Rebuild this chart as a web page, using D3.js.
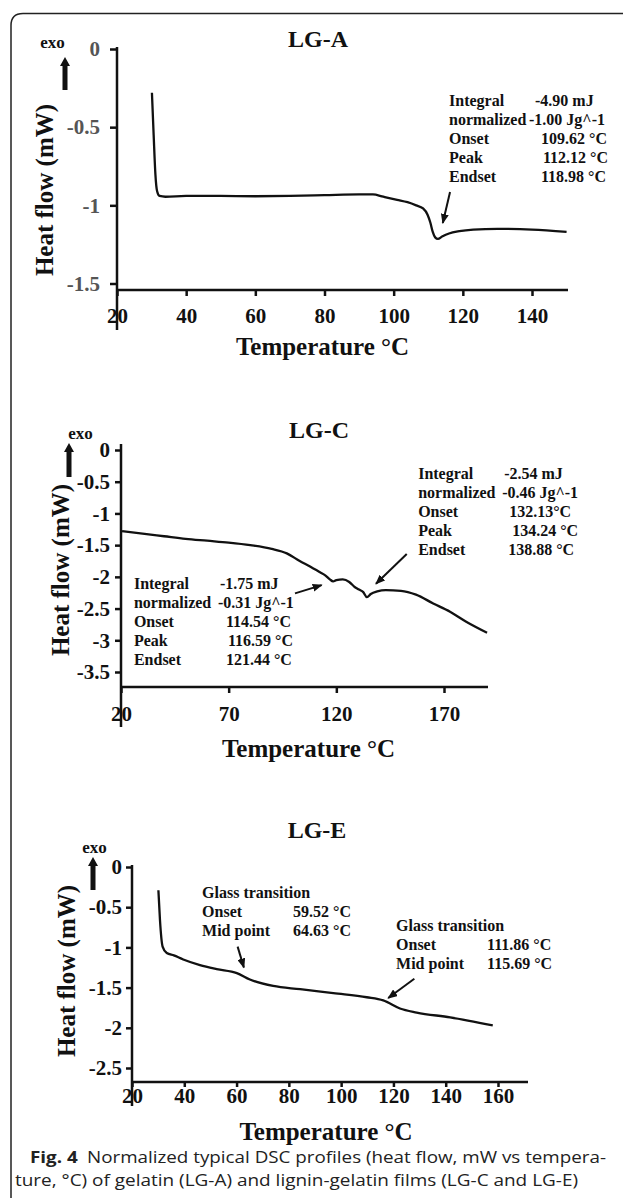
<!DOCTYPE html>
<html>
<head>
<meta charset="utf-8">
<script src="https://cdn.jsdelivr.net/npm/d3@7"></script>
<style>
  body { margin: 0; background: #fff; }
  svg text { font-family: "Liberation Serif", "Times New Roman", serif; font-weight: bold; fill: #111; }
  svg .caption text { font-family: "Open Sans", "Noto Sans", sans-serif; font-weight: normal; fill: #222; }
</style>
</head>
<body>
<svg id="fig" width="623" height="1200"></svg>
<script>
// ---- data ----
// LG-A
const tempA = [30.1, 30.6, 31.1, 31.6, 32.3, 34, 40, 50, 60, 70, 80, 90, 94, 97, 101, 104, 106.5, 108.5, 109.8, 110.6,
               111.3, 112, 112.8, 114, 116, 119, 123, 130, 140, 150];
const flowA = [-0.28, -0.55, -0.8, -0.91, -0.94, -0.945, -0.94, -0.94, -0.942, -0.94, -0.935, -0.93, -0.93, -0.945, -0.965, -0.98, -1.0, -1.02, -1.06, -1.11,
               -1.17, -1.205, -1.215, -1.2, -1.18, -1.165, -1.155, -1.15, -1.155, -1.17];
// LG-C
const tempC = [20.5, 30, 40, 50, 60, 70, 80, 90, 97, 103, 108, 112, 115, 117, 118.5, 120, 123, 126, 128.5, 130.5,
               132.5, 134.2, 136, 139, 143, 150, 157, 165, 172.8, 180.5, 190];
const flowC = [-1.28, -1.32, -1.36, -1.40, -1.43, -1.46, -1.50, -1.56, -1.63, -1.75, -1.84, -1.92, -1.98, -2.04, -2.07, -2.05, -2.04, -2.08, -2.16, -2.20,
               -2.24, -2.32, -2.27, -2.23, -2.21, -2.22, -2.28, -2.42, -2.55, -2.71, -2.88];
// LG-E
const tempE = [30.1, 30.7, 31.7, 33.3, 36, 39.6, 46, 52.4, 60.1, 65.1, 74, 84.3, 97, 109.8, 116.1, 122.5, 128.9, 141.7, 158];
const flowE = [-0.29, -0.66, -0.99, -1.07, -1.10, -1.15, -1.22, -1.27, -1.32, -1.40, -1.48, -1.52, -1.57, -1.62, -1.66, -1.76, -1.81, -1.87, -1.97];

// tick labels
const xTicksA = [20, 40, 60, 80, 100, 120, 140];
const yTicksA = [0, -0.5, -1, -1.5];
const xTicksC = [20, 70, 120, 170];
const yTicksC = [0, -0.5, -1, -1.5, -2, -2.5, -3, -3.5];
const xTicksE = [20, 40, 60, 80, 100, 120, 140, 160];
const yTicksE = [0, -0.5, -1, -1.5, -2, -2.5];

// annotation texts
const peakLabels = ["Integral", "normalized", "Onset", "Peak", "Endset"];
const peakA = ["-4.90 mJ", "-1.00 Jg^-1", "109.62 °C", "112.12 °C", "118.98 °C"];
const peakC1 = ["-1.75 mJ", "-0.31 Jg^-1", "114.54 °C", "116.59 °C", "121.44 °C"];
const peakC2 = ["-2.54 mJ", "-0.46 Jg^-1", "132.13°C", "134.24 °C", "138.88 °C"];
const glassLabels = ["Glass transition", "Onset", "Mid point"];
const glassE1 = ["", "59.52 °C", "64.63 °C"];
const glassE2 = ["", "111.86 °C", "115.69 °C"];

const captionBold = "Fig. 4";
const captionLine1 = "Normalized typical DSC profiles (heat flow, mW vs tempera-";
const captionLine2 = "ture, °C) of gelatin (LG-A) and lignin-gelatin films (LG-C and LG-E)";

// ---- layout ----
const svg = d3.select("#fig");

svg.append("defs").append("marker")
    .attr("id", "head")
    .attr("markerUnits", "userSpaceOnUse")
    .attr("markerWidth", 10).attr("markerHeight", 8)
    .attr("refX", 9).attr("refY", 4)
    .attr("orient", "auto")
    .append("path").attr("d", "M0,0 L10,4 L0,8 Z").attr("fill", "#111");

// rounded frame (open on the right)
svg.append("path")
    .attr("d", "M623,13.5 H23 Q11,13.5 11,25.5 V1198")
    .attr("fill", "none").attr("stroke", "#222").attr("stroke-width", 1.5);

const panels = [
  { title: "LG-A", temp: tempA, flow: flowA, xTicks: xTicksA, yTicks: yTicksA,
    xDom: [20, 140], xPx: [117, 532], yDom: [-1.5, 0], yPx: [283.5, 49],
    xEnd: 568, axisY: 290, yTop: 47, yBottom: 330,
    xTick: 6, xPad: 12, yTick: 7, yPad: 10, yTickColor: "#555",
    titlePos: [318, 47], xLabPos: [322.5, 355], yLabPos: [44, 190],
    exo: [52.5, 48, 65, 57, 90],
    notes: [{ labels: peakLabels, values: peakA, at: [116, -0.365], offs: [86, 80, 92, 94, 92] }],
    arrows: [[[116.3, -0.915], [114.2, -1.113]]] },
  { title: "LG-C", temp: tempC, flow: flowC, xTicks: xTicksC, yTicks: yTicksC,
    xDom: [20, 170], xPx: [121, 444], yDom: [-3.5, 0], yPx: [672, 450],
    xEnd: 488, axisY: 687, yTop: 444, yBottom: 727,
    xTick: 6, xPad: 13, yTick: 6, yPad: 5, yTickColor: "#111",
    titlePos: [319, 438], xLabPos: [308.5, 757], yLabPos: [60, 570],
    exo: [80.5, 439, 69, 443, 477],
    notes: [{ labels: peakLabels, values: peakC1, at: [26, -2.19], offs: [86, 84, 92, 94, 92] },
            { labels: peakLabels, values: peakC2, at: [158, -0.457], offs: [86, 84, 91, 94, 90] }],
    arrows: [[[100.8, -2.26], [113.2, -2.13]], [[152.7, -1.64], [138.4, -2.11]]] },
  { title: "LG-E", temp: tempE, flow: flowE, xTicks: xTicksE, yTicks: yTicksE,
    xDom: [20, 160], xPx: [132, 498], yDom: [-2.5, 0], yPx: [1068, 867],
    xEnd: 528, axisY: 1082, yTop: 865, yBottom: 1106,
    xTick: 5, xPad: 1, yTick: 6, yPad: 4, yTickColor: "#111",
    titlePos: [317, 838], xLabPos: [326, 1140], yLabPos: [66, 971],
    exo: [94.5, 853, 93, 857, 890],
    notes: [{ labels: glassLabels, values: glassE1, at: [46.8, -0.386], offs: [0, 91, 91] },
            { labels: glassLabels, values: glassE2, at: [121, -0.79], offs: [0, 91, 91] }],
    arrows: [[[60.4, -0.99], [62.8, -1.25]], [[128, -1.39], [118, -1.63]]] }
];

panels.forEach(drawPanel);

function drawPanel(p) {
  const x = d3.scaleLinear().domain(p.xDom).range(p.xPx);
  const y = d3.scaleLinear().domain(p.yDom).range(p.yPx);
  const g = svg.append("g");

  // x axis
  const xa = g.append("g")
      .attr("transform", `translate(0,${p.axisY})`)
      .call(d3.axisBottom(x).tickValues(p.xTicks).tickSize(p.xTick).tickPadding(p.xPad).tickFormat(d => String(d)));
  xa.select(".domain").remove();
  xa.attr("font-size", 21).attr("font-family", null);
  xa.selectAll("line").attr("stroke", "#111").attr("stroke-width", 2.5);
  g.append("line")
      .attr("x1", x(p.xDom[0])).attr("x2", p.xEnd)
      .attr("y1", p.axisY).attr("y2", p.axisY)
      .attr("stroke", "#111").attr("stroke-width", 2.5);

  // y axis
  const ya = g.append("g")
      .attr("transform", `translate(${x(p.xDom[0])},0)`)
      .call(d3.axisLeft(y).tickValues(p.yTicks).tickSize(p.yTick).tickPadding(p.yPad).tickFormat(d => String(d)));
  ya.select(".domain").remove();
  ya.attr("font-size", 21).attr("font-family", null);
  ya.selectAll("line").attr("stroke", "#111").attr("stroke-width", 2.5);
  ya.selectAll("text").style("fill", p.yTickColor);
  g.append("line")
      .attr("x1", x(p.xDom[0])).attr("x2", x(p.xDom[0]))
      .attr("y1", p.yTop).attr("y2", p.yBottom)
      .attr("stroke", "#111").attr("stroke-width", 2.5);

  // curve
  const pts = p.temp.map((t, i) => [t, p.flow[i]]);
  g.append("path")
      .datum(pts)
      .attr("fill", "none").attr("stroke", "#111").attr("stroke-width", 2.3)
      .attr("stroke-linejoin", "round")
      .attr("d", d3.line().x(d => x(d[0])).y(d => y(d[1])).curve(d3.curveMonotoneX));

  // titles and axis labels
  g.append("text").attr("x", p.titlePos[0]).attr("y", p.titlePos[1])
      .attr("text-anchor", "middle").attr("font-size", 24).text(p.title);
  g.append("text").attr("x", p.xLabPos[0]).attr("y", p.xLabPos[1])
      .attr("text-anchor", "middle").attr("font-size", 25).text("Temperature °C");
  g.append("text")
      .attr("transform", `translate(${p.yLabPos[0]},${p.yLabPos[1]}) rotate(-90)`)
      .attr("text-anchor", "middle").attr("dy", "0.35em").attr("font-size", 25)
      .text("Heat flow (mW)");

  // exo marker
  const [ex, ey, ax, aTop, aBot] = p.exo;
  g.append("text").attr("x", ex).attr("y", ey).attr("text-anchor", "middle")
      .attr("font-size", 17).text("exo");
  g.append("path")
      .attr("d", `M${ax - 2.5},${aBot} V${aTop + 9} H${ax - 5} L${ax},${aTop} L${ax + 5},${aTop + 9} H${ax + 2.5} V${aBot} Z`)
      .attr("fill", "#111");

  // annotation blocks
  p.notes.forEach(n => {
    const bx = x(n.at[0]), by = y(n.at[1]);
    n.labels.forEach((lab, i) => {
      g.append("text").attr("x", bx).attr("y", by + i * 19).attr("font-size", 16).text(lab);
      if (n.values[i]) {
        g.append("text").attr("x", bx + n.offs[i]).attr("y", by + i * 19).attr("font-size", 16).text(n.values[i]);
      }
    });
  });

  // pointer arrows
  p.arrows.forEach(a => {
    g.append("line")
        .attr("x1", x(a[0][0])).attr("y1", y(a[0][1]))
        .attr("x2", x(a[1][0])).attr("y2", y(a[1][1]))
        .attr("stroke", "#111").attr("stroke-width", 2)
        .attr("marker-end", "url(#head)");
  });
}

// caption, fitted to the measured line widths
const cap = svg.append("g").attr("class", "caption");
const l1 = cap.append("text").attr("x", 30).attr("y", 1163).attr("font-size", 16)
    .attr("textLength", 576).attr("lengthAdjust", "spacingAndGlyphs");
l1.append("tspan").style("font-weight", "bold").text(captionBold);
l1.append("tspan").text("\u2002" + captionLine1);
cap.append("text").attr("x", 15).attr("y", 1186).attr("font-size", 16)
    .attr("textLength", 563).attr("lengthAdjust", "spacingAndGlyphs")
    .text(captionLine2);
</script>
</body>
</html>
